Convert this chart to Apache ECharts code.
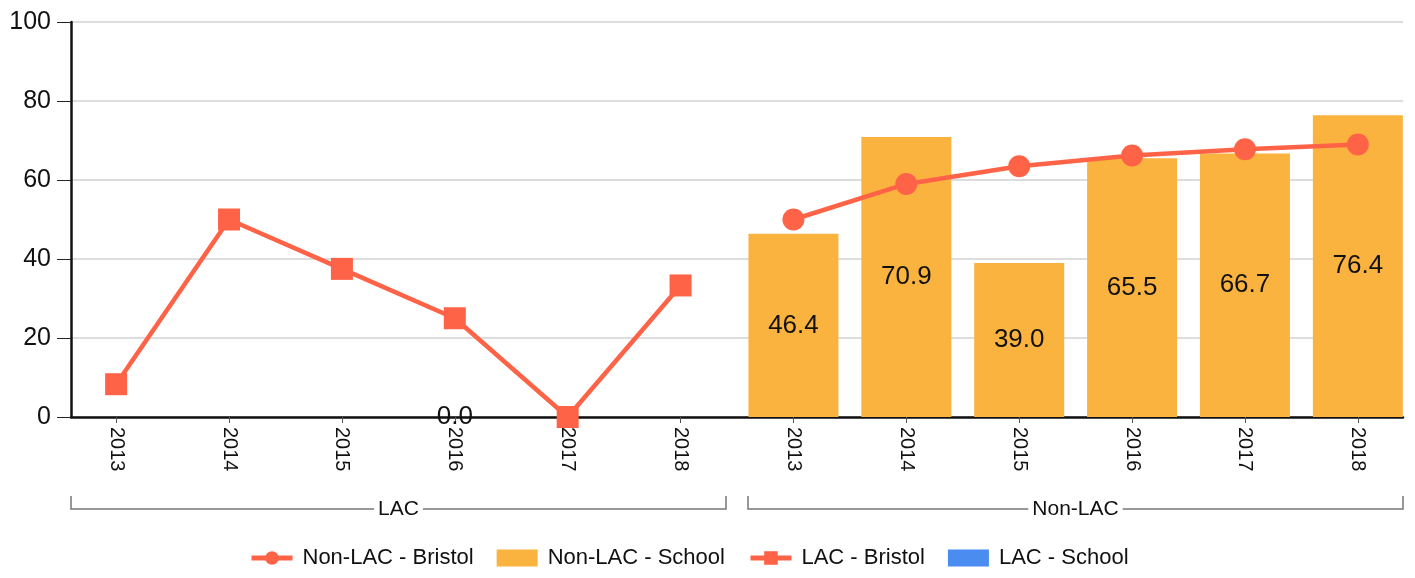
<!DOCTYPE html>
<html>
<head>
<meta charset="utf-8">
<script src="https://cdn.jsdelivr.net/npm/echarts@6/dist/echarts.min.js"></script>
<style>
  html, body { margin: 0; padding: 0; background: #fff; }
  #main { width: 1415px; height: 578px; }
</style>
</head>
<body>
<div id="main"></div>
<script>
// data
var years = ['2013', '2014', '2015', '2016', '2017', '2018'];
var groups = ['LAC', 'Non-LAC'];
var lacBristol = [8.3, 50.0, 37.5, 25.0, 0.0, 33.3];
var lacSchool = [null, null, null, 0.0, null, null];
var nonLacBristol = [50.0, 59.0, 63.5, 66.2, 67.8, 69.0];
var nonLacSchool = [46.4, 70.9, 39.0, 65.5, 66.7, 76.4];

var font = 'Liberation Sans, Arial, sans-serif';
var lineColor = '#FF6347';
var barColor = '#FBB33F';
var blueColor = '#4A8CF0';

// every year slot along the x axis, LAC block then Non-LAC block
var slots = [];
groups.forEach(function (g, gi) {
  years.forEach(function (y, yi) { slots.push(gi * years.length + yi); });
});

function toPoints(values, groupIndex) {
  return values
    .map(function (v, i) { return [groupIndex * years.length + i, v]; })
    .filter(function (p) { return p[1] !== null; });
}

var chart = echarts.init(document.getElementById('main'));

var barLabel = {
  show: true,
  position: 'inside',
  color: '#111',
  fontSize: 26,
  fontFamily: font,
  formatter: function (p) { return p.value[1].toFixed(1); }
};

var option = {
  animation: false,
  textStyle: { fontFamily: font },
  grid: { left: 71, top: 22, width: 1332, height: 395 },
  xAxis: {
    type: 'value',
    min: -0.4,
    max: 11.4,
    splitLine: { show: false },
    axisLine: { show: true, onZero: false, lineStyle: { color: '#111', width: 2.5 } },
    axisTick: { show: true, customValues: slots, length: 6, lineStyle: { color: '#555' } },
    axisLabel: {
      customValues: slots,
      rotate: -90,
      margin: 10,
      fontSize: 20,
      color: '#111',
      fontFamily: font,
      formatter: function (v) { return years[Math.round(v) % years.length]; }
    }
  },
  yAxis: {
    type: 'value',
    min: 0,
    max: 100,
    interval: 20,
    axisLine: { show: true, onZero: false, lineStyle: { color: '#111', width: 2.5 } },
    axisTick: { show: true, length: 14, lineStyle: { color: '#222' } },
    axisLabel: { fontSize: 25, color: '#111', margin: 20, fontFamily: font },
    splitLine: { lineStyle: { color: '#dddddd', width: 2 } }
  },
  legend: {
    left: 244,
    bottom: 4,
    itemWidth: 41,
    itemHeight: 17,
    itemGap: 23,
    lineStyle: { width: 5 },
    textStyle: { fontSize: 22, color: '#111', fontFamily: font, padding: [0, 0, 0, 5] },
    data: [
      { name: 'Non-LAC - Bristol' },
      { name: 'Non-LAC - School', icon: 'rect' },
      { name: 'LAC - Bristol' },
      { name: 'LAC - School', icon: 'rect' }
    ]
  },
  series: [
    {
      name: 'Non-LAC - School',
      type: 'bar',
      barWidth: 90,
      barGap: '-100%',
      itemStyle: { color: barColor },
      label: barLabel,
      data: toPoints(nonLacSchool, 1)
    },
    {
      name: 'LAC - School',
      type: 'bar',
      barWidth: 90,
      barGap: '-100%',
      itemStyle: { color: blueColor },
      label: barLabel,
      data: toPoints(lacSchool, 0)
    },
    {
      name: 'LAC - Bristol',
      type: 'line',
      symbol: 'rect',
      symbolSize: 22,
      itemStyle: { color: lineColor },
      lineStyle: { color: lineColor, width: 4.5 },
      data: toPoints(lacBristol, 0)
    },
    {
      name: 'Non-LAC - Bristol',
      type: 'line',
      symbol: 'circle',
      symbolSize: 22,
      itemStyle: { color: lineColor },
      lineStyle: { color: lineColor, width: 4.5 },
      data: toPoints(nonLacBristol, 1)
    }
  ]
};

chart.setOption(option);

// group brackets under the year labels
var brackets = [];
groups.forEach(function (g, gi) {
  var start = gi * years.length - 0.5;
  var end = start + years.length;
  var x0 = chart.convertToPixel({ xAxisIndex: 0 }, start) + 11;
  var x1 = chart.convertToPixel({ xAxisIndex: 0 }, end) - 11;
  if (gi === 0) x0 = 71;
  if (gi === groups.length - 1) x1 = 1403;
  brackets.push({
    type: 'polyline',
    shape: { points: [[x0, 496], [x0, 509], [x1, 509], [x1, 496]] },
    style: { stroke: '#777', lineWidth: 1.5, fill: null }
  });
  brackets.push({
    type: 'text',
    x: (x0 + x1) / 2,
    y: 509,
    style: {
      text: g,
      fontSize: 21,
      fontFamily: font,
      fill: '#111',
      align: 'center',
      verticalAlign: 'middle',
      backgroundColor: '#fff',
      padding: [0, 4]
    }
  });
});
chart.setOption({ graphic: brackets });
</script>
</body>
</html>
